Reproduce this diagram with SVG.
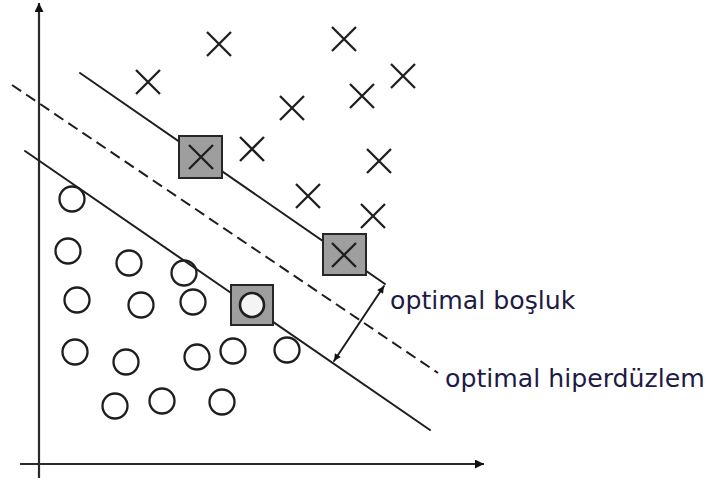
<svg xmlns="http://www.w3.org/2000/svg" xmlns:xlink="http://www.w3.org/1999/xlink" width="708" height="483" viewBox="0 0 708 483">
  <style>
    .ln { stroke: #1e1e1e; stroke-width: 2; fill: none; stroke-linecap: round; }
    .dash { stroke-dasharray: 11 6; stroke-linecap: butt; }
    .axis { stroke: #2a2a2a; stroke-width: 2.2; fill: none; }
    .pt { stroke: #1e1e1e; stroke-width: 2.3; fill: none; }
    .sv { fill: #9e9e9e; stroke: #262626; stroke-width: 2; }
    .lbl { font-family: "DejaVu Sans", Verdana, sans-serif; font-size: 25.2px; fill: #1f1a45; }
  </style>
  <defs>
    <g id="cross">
      <path class="pt" d="M-12,-12 L12,12 M12,-12 L-12,12"/>
    </g>
    <g id="ring">
      <circle class="pt" r="12.5"/>
    </g>
    <marker id="axisHead" viewBox="0 0 10 10" refX="10" refY="5" markerWidth="16" markerHeight="9" markerUnits="userSpaceOnUse" orient="auto">
      <path d="M0,0 L10,5 L0,10 Z" fill="#111"/>
    </marker>
    <marker id="marg" viewBox="0 0 10 10" refX="10" refY="5" markerWidth="9" markerHeight="7" markerUnits="userSpaceOnUse" orient="auto-start-reverse">
      <path d="M0,0 L10,5 L0,10 Z" fill="#111"/>
    </marker>
  </defs>

  <!-- axes -->
  <g id="axes">
    <line class="axis" x1="39" y1="478" x2="39" y2="3" marker-end="url(#axisHead)"/>
    <line class="axis" x1="20" y1="464" x2="484" y2="464" marker-end="url(#axisHead)"/>
  </g>

  <!-- margin boundaries, hyperplane and margin arrow -->
  <g id="connectors">
    <line class="ln" x1="80" y1="73" x2="385" y2="284"/>
    <line class="ln dash" x1="12" y1="85" x2="438" y2="373"/>
    <line class="ln" x1="25" y1="151" x2="430" y2="430"/>
    <line class="ln" x1="384" y1="286" x2="334" y2="361" marker-start="url(#marg)" marker-end="url(#marg)"/>
  </g>

  <!-- class X -->
  <g id="x1"><use xlink:href="#cross" x="219" y="44"/></g>
  <g id="x2"><use xlink:href="#cross" x="344" y="39"/></g>
  <g id="x3"><use xlink:href="#cross" x="148" y="82"/></g>
  <g id="x4"><use xlink:href="#cross" x="403" y="76"/></g>
  <g id="x5"><use xlink:href="#cross" x="362" y="96"/></g>
  <g id="x6"><use xlink:href="#cross" x="292" y="108"/></g>
  <g id="x7"><use xlink:href="#cross" x="252" y="149"/></g>
  <g id="x8"><use xlink:href="#cross" x="379" y="161"/></g>
  <g id="x9"><use xlink:href="#cross" x="308" y="196"/></g>
  <g id="x10"><use xlink:href="#cross" x="373" y="216"/></g>

  <!-- class O -->
  <g id="o1"><use xlink:href="#ring" x="72" y="199"/></g>
  <g id="o2"><use xlink:href="#ring" x="68" y="251"/></g>
  <g id="o3"><use xlink:href="#ring" x="129" y="263"/></g>
  <g id="o4"><use xlink:href="#ring" x="184" y="273"/></g>
  <g id="o5"><use xlink:href="#ring" x="77" y="300"/></g>
  <g id="o6"><use xlink:href="#ring" x="141" y="305"/></g>
  <g id="o7"><use xlink:href="#ring" x="193" y="302"/></g>
  <g id="o8"><use xlink:href="#ring" x="75" y="352"/></g>
  <g id="o9"><use xlink:href="#ring" x="126" y="362"/></g>
  <g id="o10"><use xlink:href="#ring" x="197" y="357"/></g>
  <g id="o11"><use xlink:href="#ring" x="233" y="351"/></g>
  <g id="o12"><use xlink:href="#ring" x="287" y="350"/></g>
  <g id="o13"><use xlink:href="#ring" x="115" y="406"/></g>
  <g id="o14"><use xlink:href="#ring" x="162" y="401"/></g>
  <g id="o15"><use xlink:href="#ring" x="222" y="402"/></g>

  <!-- support vectors -->
  <g id="sv1">
    <rect class="sv" x="179" y="136" width="43" height="42"/>
    <use xlink:href="#cross" x="201" y="157"/>
  </g>
  <g id="sv2">
    <rect class="sv" x="323" y="234" width="43" height="41"/>
    <use xlink:href="#cross" x="344" y="255"/>
  </g>
  <g id="sv3">
    <rect class="sv" x="231" y="285" width="42" height="40"/>
    <circle r="12" cx="252" cy="305" fill="#f4f4f4" stroke="#1e1e1e" stroke-width="2.6"/>
  </g>

  <!-- labels -->
  <g id="label-margin"><text class="lbl" x="390" y="309">optimal boşluk</text></g>
  <g id="label-plane"><text class="lbl" x="445" y="387">optimal hiperdüzlem</text></g>
</svg>
